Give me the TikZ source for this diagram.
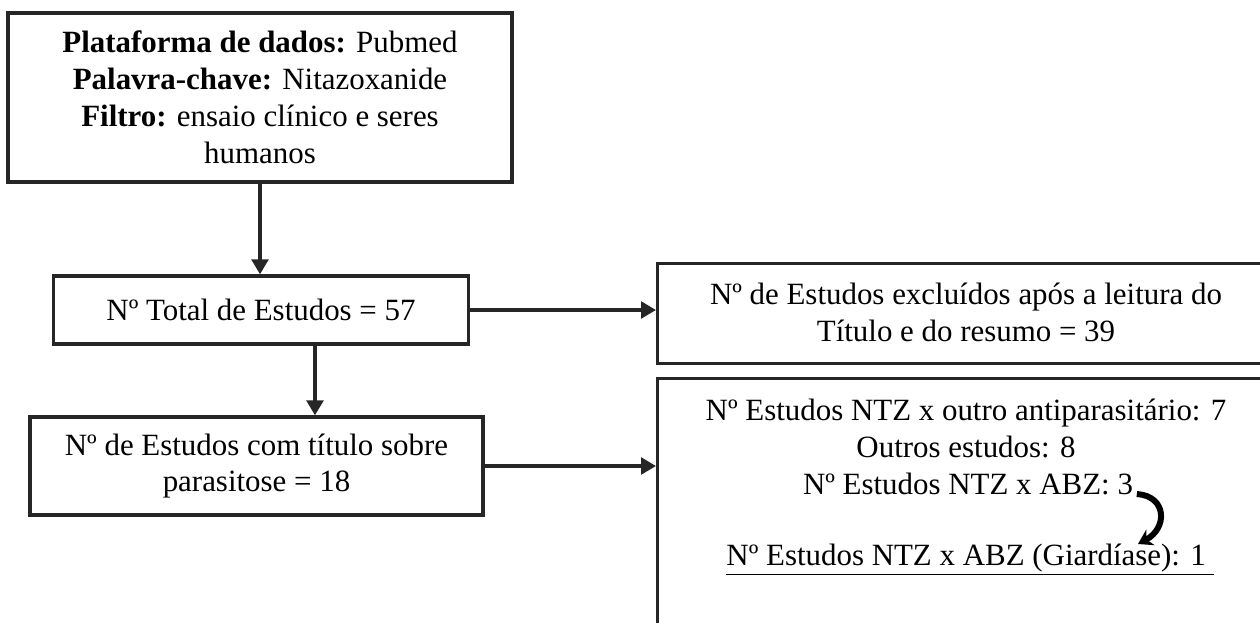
\documentclass[tikz,border=0pt]{standalone}
\usepackage{fontspec}
\setmainfont{Liberation Serif}
\usetikzlibrary{positioning,arrows.meta}

\tikzset{
	caixa/.style={draw=black!85, line width=1.9pt, align=center, inner sep=0pt, font=\fontsize{17.6}{21}\selectfont},
	texto/.style={inner sep=0pt, align=center, font=\fontsize{17.6}{21}\selectfont},
	seta/.style={draw=black!85, line width=1.9pt, -{Triangle[length=8.5pt,width=9.5pt]}},
	curva/.style={draw=black, line width=3.4pt, -{Stealth[length=8pt,width=10pt]}}
}

\begin{document}
\begin{tikzpicture}[x=0.02cm,y=-0.02cm]
			
			\useasboundingbox (0,0) rectangle (1260,622);
			\clip (0,0) rectangle (1260,622);
			
			\node[caixa, minimum width=10.08cm, minimum height=3.38cm] (plat) at (260,97.5)
				{\textbf{Plataforma de dados:} Pubmed\\\textbf{Palavra-chave:} Nitazoxanide\\\textbf{Filtro:} ensaio clínico e seres\\humanos};
			\node[caixa, minimum width=8.3cm, minimum height=1.36cm] (total) at (261,310) {Nº Total de Estudos = 57};
			\node[caixa, minimum width=9.06cm, minimum height=1.96cm] (paras) at (256.5,466) {Nº de Estudos com título sobre\\parasitose = 18};
			
			\node[caixa, anchor=north west, minimum width=14cm, minimum height=2cm] (excl) at (656,262) {};
			\node[texto] (exclTxt) at (966,312) {Nº de Estudos excluídos após a leitura do\\Título e do resumo = 39};
			
			\node[caixa, anchor=north west, minimum width=14cm, minimum height=6cm] (outros) at (656,377) {};
			\node[texto, anchor=base] (ntzOutro) at (966,420) {Nº Estudos NTZ x outro antiparasitário: 7};
			\node[texto, anchor=base] (outrosEst) at (966,457) {Outros estudos: 8};
			\node[texto, anchor=base] (abz) at (968,494) {Nº Estudos NTZ x ABZ: 3};
			\node[texto, anchor=base] (giard) at (970,565) {\underline{Nº Estudos NTZ x ABZ (Giardíase): 1\ }};
			\coordinate (ponta) at (1138,544);
			
			\draw[seta] (plat.south) -- (plat.south |- total.north);
			\draw[seta] ([xshift=1.08cm]total.south) -- ([xshift=1.08cm]total.south |- paras.north);
			\draw[seta] (total.east) -- (total.east -| excl.west);
			\draw[seta] (paras.east) -- (paras.east -| outros.west);
			\draw[curva] ([xshift=2pt]abz.base east) .. controls +(30,2) and (1168,528) .. (ponta);

		\end{tikzpicture}
\end{document}
